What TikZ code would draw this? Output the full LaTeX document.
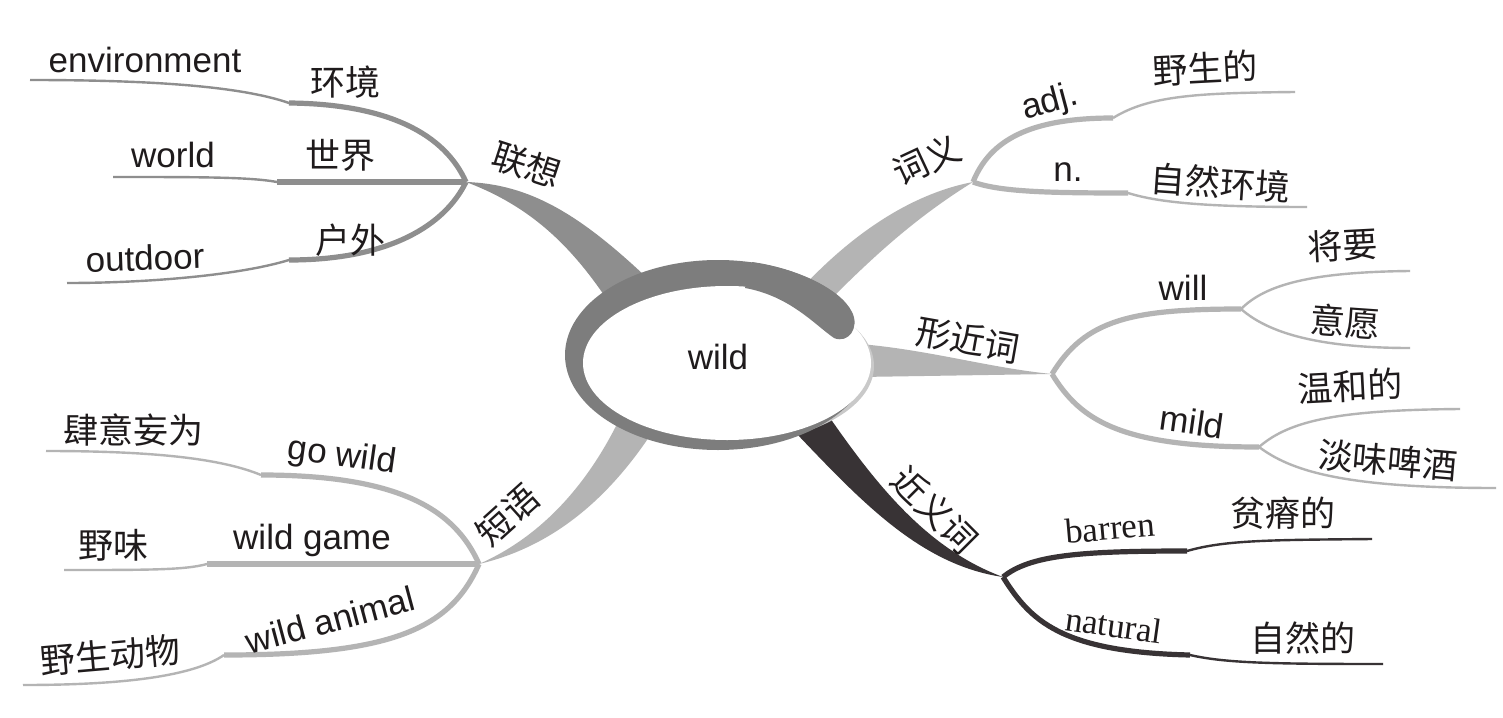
\documentclass[tikz,border=0pt]{standalone}
\usepackage{fontspec}
\setmainfont{Liberation Sans}
\newfontfamily\cjkfont{Noto Sans CJK SC}
\newfontfamily\romanfont{Liberation Serif}

\definecolor{ringgray}{HTML}{7D7D7D}
\definecolor{assocgray}{HTML}{8E8E8E}
\definecolor{branchlight}{HTML}{B4B4B4}
\definecolor{syndark}{HTML}{383335}
\definecolor{rimgray}{HTML}{C9C9C9}
\definecolor{inkc}{HTML}{1F1B1C}

\begin{document}
\begin{tikzpicture}[x=0.5pt, y=-0.5pt,
    en/.style={font=\fontsize{17.5}{20}\selectfont, text=inkc, inner sep=0pt},
    zh/.style={font=\cjkfont\fontsize{17.5}{20}\selectfont, text=inkc, inner sep=0pt},
    rm/.style={font=\romanfont\fontsize{17.5}{20}\selectfont, text=inkc, inner sep=0pt},
    limb/.style={line width=2.6pt},
    twig/.style={line width=1.2pt}
]
\useasboundingbox (0,0) rectangle (1503,717);
\fill[white] (0,0) rectangle (1503,717);

% hubs, bends and free ends
\coordinate (hubAssoc) at (466,182);
\coordinate (hubMean) at (973,182);
\coordinate (hubForm) at (1052,374);
\coordinate (hubSyn) at (1003,577);
\coordinate (hubPhr) at (479,564);

\coordinate (bendEnv) at (289,103);   \coordinate (endEnv) at (30,80);
\coordinate (bendWorld) at (277,182); \coordinate (endWorld) at (113,177);
\coordinate (bendOut) at (289,260);   \coordinate (endOut) at (67,283);
\coordinate (bendAdj) at (1113,118);  \coordinate (endAdj) at (1295,92);
\coordinate (bendN) at (1128,193);    \coordinate (endN) at (1307,207);
\coordinate (forkWill) at (1241,309); \coordinate (endJiang) at (1410,271); \coordinate (endYi) at (1410,348);
\coordinate (forkMild) at (1259,447); \coordinate (endWen) at (1460,409);   \coordinate (endDan) at (1496,488);
\coordinate (bendBar) at (1187,551);  \coordinate (endBar) at (1372,539);
\coordinate (bendNat) at (1190,655);  \coordinate (endNat) at (1383,664);
\coordinate (bendGo) at (261,475);    \coordinate (endGo) at (46,451);
\coordinate (bendGame) at (207,564);  \coordinate (endGame) at (64,570);
\coordinate (bendAni) at (224,655);   \coordinate (endAni) at (23,685);

% 联想
\begin{scope}[color=assocgray]
\draw[limb] (hubAssoc) .. controls (445,135) and (390,104) .. (bendEnv);
\draw[twig] (bendEnv) .. controls (240,86) and (150,80) .. (endEnv);
\draw[limb] (hubAssoc) -- (bendWorld);
\draw[twig] (bendWorld) .. controls (250,177) and (200,177) .. (endWorld);
\draw[limb] (hubAssoc) .. controls (445,225) and (390,260) .. (bendOut);
\draw[twig] (bendOut) .. controls (240,275) and (150,283) .. (endOut);
\fill (hubAssoc) .. controls (530,184) and (580,215) .. (645,276) -- (606,298)
    .. controls (570,245) and (530,206) .. (hubAssoc) -- cycle;
\end{scope}

% 词义
\begin{scope}[color=branchlight]
\draw[limb] (hubMean) .. controls (990,140) and (1030,118) .. (bendAdj);
\draw[twig] (bendAdj) .. controls (1150,95) and (1200,93) .. (endAdj);
\draw[limb] (hubMean) .. controls (1000,192) and (1050,193) .. (bendN);
\draw[twig] (bendN) .. controls (1160,203) and (1210,207) .. (endN);
\fill (hubMean) .. controls (920,192) and (860,225) .. (800,290) -- (832,298)
    .. controls (880,250) and (920,215) .. (hubMean) -- cycle;
\end{scope}

% 形近词
\begin{scope}[color=branchlight]
\draw[limb] (hubForm) .. controls (1085,320) and (1130,309) .. (forkWill);
\draw[twig] (forkWill) .. controls (1265,285) and (1310,272) .. (endJiang);
\draw[twig] (forkWill) .. controls (1265,330) and (1310,348) .. (endYi);
\draw[limb] (hubForm) .. controls (1080,420) and (1120,447) .. (forkMild);
\draw[twig] (forkMild) .. controls (1290,420) and (1340,410) .. (endWen);
\draw[twig] (forkMild) .. controls (1290,470) and (1340,488) .. (endDan);
\fill (860,344) .. controls (930,350) and (990,368) .. (hubForm) -- (860,377) -- cycle;
\end{scope}

% 近义词
\begin{scope}[color=syndark]
\draw[limb] (hubSyn) .. controls (1030,555) and (1080,551) .. (bendBar);
\draw[twig] (bendBar) .. controls (1225,540) and (1270,540) .. (endBar);
\draw[limb] (hubSyn) .. controls (1030,620) and (1060,652) .. (bendNat);
\draw[twig] (bendNat) .. controls (1225,663) and (1270,664) .. (endNat);
\fill (830,418) .. controls (880,490) and (930,550) .. (hubSyn)
    .. controls (920,565) and (860,500) .. (795,432) -- cycle;
\end{scope}

% 短语
\begin{scope}[color=branchlight]
\draw[limb] (hubPhr) .. controls (455,510) and (400,475) .. (bendGo);
\draw[twig] (bendGo) .. controls (220,458) and (150,451) .. (endGo);
\draw[limb] (hubPhr) -- (bendGame);
\draw[twig] (bendGame) .. controls (185,570) and (150,570) .. (endGame);
\draw[limb] (hubPhr) .. controls (450,630) and (390,655) .. (bendAni);
\draw[twig] (bendAni) .. controls (195,675) and (130,685) .. (endAni);
\fill (620,418) .. controls (590,480) and (545,535) .. (hubPhr)
    .. controls (560,545) and (615,490) .. (655,428) -- cycle;
\end{scope}

% centre ring
\fill[rimgray] (730,366) ellipse[x radius=144, y radius=77];
\fill[ringgray] (718,355) -- ++(-45:153 and 95)
    arc[start angle=-45, end angle=-350, x radius=153, y radius=95] -- cycle;
\fill[white] (727,363) ellipse[x radius=144, y radius=77];
\fill[ringgray] (752,262) .. controls (795,268) and (840,288) .. (852,312)
    .. controls (860,328) and (848,344) .. (834,338)
    .. controls (815,325) and (790,296) .. (745,288) -- cycle;

\node[en] (wild) at (718,357) {wild};

\node[zh, rotate=-18] (lianxiang) at (527,165) {联想};
\node[en] (environment) at (145,60) {environment};
\node[zh] (huanjing) at (345,82) {环境};
\node[en] (world) at (173,155) {world};
\node[zh] (shijie) at (340,155) {世界};
\node[en, rotate=2] (outdoor) at (145,258) {outdoor};
\node[zh] (huwai) at (350,240) {户外};

\node[zh, rotate=25] (ciyi) at (927,160) {词义};
\node[en, rotate=15] (adj) at (1050,103) {adj.};
\node[zh, rotate=3] (yeshengde) at (1205,68) {野生的};
\node[en] (noun) at (1068,172) {n.};
\node[zh, rotate=-4] (ziranhuanjing) at (1220,183) {自然环境};

\node[zh, rotate=-10] (xingjinci) at (968,340) {形近词};
\node[en] (will) at (1183,288) {will};
\node[zh, rotate=3] (jiangyao) at (1343,245) {将要};
\node[zh, rotate=-4] (yiyuan) at (1345,322) {意愿};
\node[en, rotate=-8] (mild) at (1192,422) {mild};
\node[zh, rotate=3] (wenhede) at (1350,386) {温和的};
\node[zh, rotate=-5] (danwei) at (1388,460) {淡味啤酒};

\node[zh, rotate=-45] (jinyici) at (935,510) {近义词};
\node[rm, rotate=5] (barren) at (1110,528) {barren};
\node[zh] (pinjide) at (1283,513) {贫瘠的};
\node[rm, rotate=-8] (natural) at (1114,625) {natural};
\node[zh] (zirande) at (1303,638) {自然的};

\node[zh, rotate=42] (duanyu) at (508,515) {短语};
\node[zh] (siyi) at (133,430) {肆意妄为};
\node[en, rotate=-8] (gowild) at (342,457) {go wild};
\node[zh] (yewei) at (113,545) {野味};
\node[en] (wildgame) at (312,540) {wild game};
\node[zh, rotate=5] (yeshengdongwu) at (110,655) {野生动物};
\node[en, rotate=15] (wildanimal) at (330,620) {wild animal};

\end{tikzpicture}
\end{document}
